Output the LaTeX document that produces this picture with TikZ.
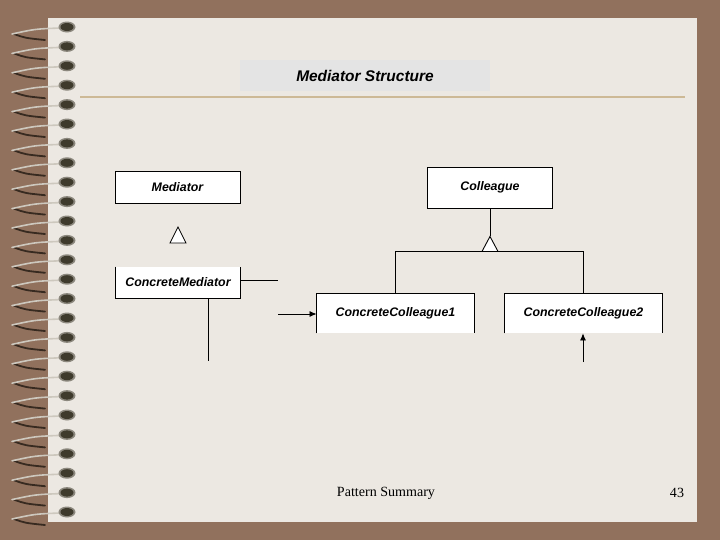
\documentclass[tikz,border=0pt]{standalone}
\usepackage{fontspec}
\setmainfont{Liberation Serif}
\setsansfont{Liberation Sans}
\usetikzlibrary{arrows.meta,calc}

\definecolor{frame}{RGB}{145,113,93}
\definecolor{paper}{RGB}{236,232,226}
\definecolor{titlegray}{RGB}{228,228,228}
\definecolor{rulecol}{RGB}{205,185,150}
\definecolor{wirelight}{RGB}{205,200,190}
\definecolor{wiredark}{RGB}{55,42,32}
\definecolor{holecol}{RGB}{62,58,44}

\begin{document}
\begin{tikzpicture}[x=0.25mm, y=-0.25mm,
  cls/.style={fill=white, inner sep=0pt, minimum width=31.25mm, minimum height=8mm, font=\sffamily\bfseries\itshape\fontsize{8.8}{10}\selectfont},
  closed/.style={cls, draw, line width=0.22mm},
  open/.style={cls},
  edge/.style={line width=0.22mm},
  arr/.style={edge, -{Latex[length=1.8mm, width=1.5mm]}},
  tri/.style={edge, fill=white, line join=miter},
  foot/.style={font=\fontsize{10}{12}\selectfont}
]

% page and binding
\fill[frame] (0,0) rectangle (720,540);
\fill[paper] (48,18) rectangle (697,522);
\foreach \i in {0,...,25} {
  \pgfmathsetmacro{\yy}{27+19.4*\i}
  \draw[wiredark, line width=0.45mm, line cap=round] (14,\yy+7) .. controls (25,\yy+11) .. (45,\yy+13);
  \draw[wirelight, line width=0.4mm, line cap=round] (60,\yy+1) .. controls (35,\yy+2) .. (12,\yy+7);
  \fill[holecol!55!paper] (67,\yy) ellipse (8.5 and 5.5);
  \fill[holecol] (67,\yy) ellipse (6.5 and 4);
}

% title
\node[fill=titlegray, minimum width=62.5mm, minimum height=7.75mm, font=\sffamily\bfseries\itshape\fontsize{11}{13}\selectfont] (title) at (365,75.5) {Mediator Structure};
\draw[rulecol, line width=0.3mm] (80,97) -- (685,97);

% classes
\node[closed] (med) at (177.5,187) {Mediator};
\node[open, minimum height=7.75mm] (cm) at (178,282.5) {ConcreteMediator};
\draw[edge] (cm.north west) -- (cm.south west) -- (cm.south east) -- (cm.north east);
\node[closed, minimum height=10.25mm] (col) at (490,187.5) {Colleague};
\node[open, minimum width=39.25mm, minimum height=9.75mm] (cc1) at (395.5,313.5) {ConcreteColleague1};
\draw[edge] (cc1.south west) -- (cc1.north west) -- (cc1.north east) -- (cc1.south east);
\node[open, minimum width=39.25mm, minimum height=9.75mm] (cc2) at (583.5,313.5) {ConcreteColleague2};
\draw[edge] (cc2.south west) -- (cc2.north west) -- (cc2.north east) -- (cc2.south east);

% inheritance
\coordinate (tipM) at (178,227);
\draw[tri] (tipM) -- ++(8,16) -- ++(-16,0) -- cycle;
\coordinate (tipC) at ($(col.south)+(0,28)$);
\draw[edge] (col.south) -- (tipC);
\draw[edge] (cc1.north) -- ($(cc1.north |- tipC)+(0,15)$) -- ($(cc2.north |- tipC)+(0,15)$) -- (cc2.north);
\draw[tri] (tipC) -- ++(8,15) -- ++(-16,0) -- cycle;

% links
\coordinate (cmR) at (278,280);
\draw[edge] (cm.east |- cmR) -- (cmR);
\coordinate (cmD) at (208,361);
\draw[edge] (cm.south -| cmD) -- (cmD);
\coordinate (in1) at (278,314);
\draw[arr] (in1) -- (cc1.west |- in1);
\coordinate (in2) at (583,362);
\draw[arr] (in2) -- (in2 |- cc2.south);

% footer
\node[foot] (foot) at (386,493) {Pattern Summary};
\node[foot] (page) at (677,493) {43};

\end{tikzpicture}
\end{document}
